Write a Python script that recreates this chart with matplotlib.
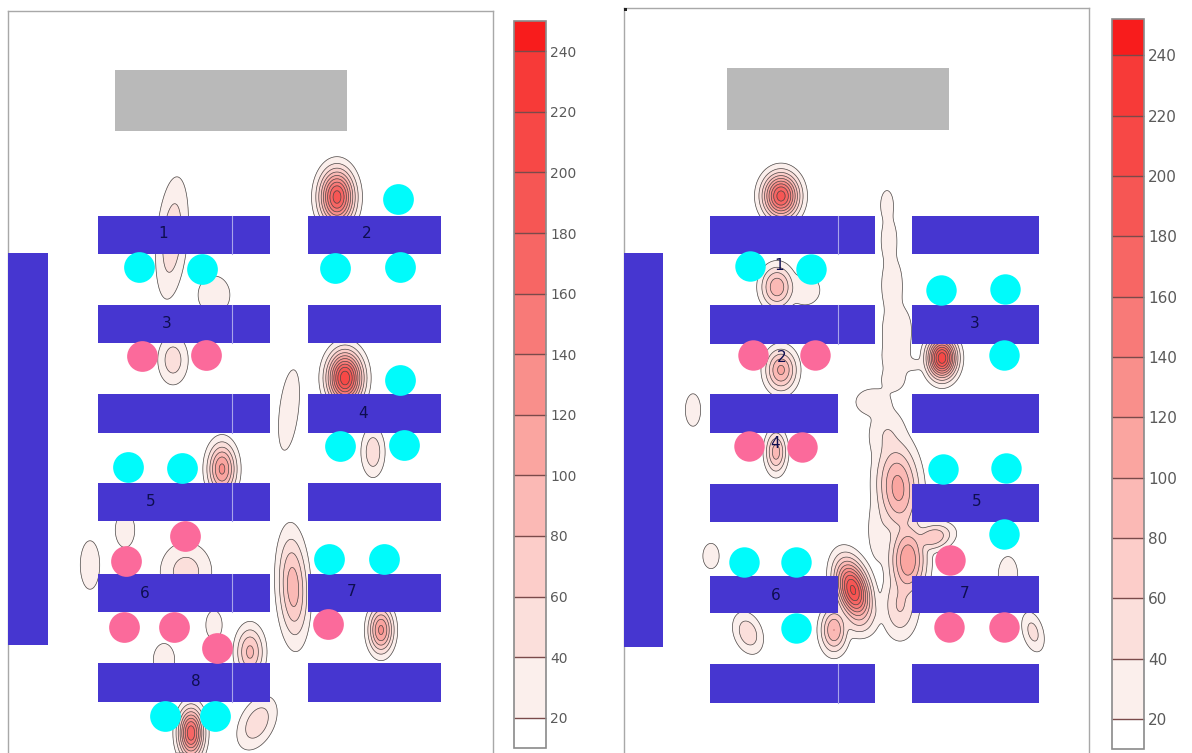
import numpy as np
import matplotlib
matplotlib.use("Agg")
import matplotlib.pyplot as plt
from matplotlib.colors import ListedColormap, BoundaryNorm
from matplotlib.patches import Rectangle

W, H = 1192, 753

levels = [10, 20, 40, 60, 80, 100, 120, 140, 160, 180, 200, 220, 240, 250]
tick_values = [20, 40, 60, 80, 100, 120, 140, 160, 180, 200, 220, 240]
band_colors = ["#ffffff", "#fbefec", "#fbdfdb", "#fccdc9", "#fbb9b5", "#faa5a0", "#f98f8b",
               "#f87a78", "#f76664", "#f65654", "#f74846", "#f73a38", "#f81c1c"]

# hot spots: x, y, spread x, spread y, peak, lean
left_spots = [
    (172, 238, 11, 43, 55, -0.08), (214, 295, 15, 18, 35, 0), (337, 197, 12, 19, 190, 0),
    (173, 360, 11, 18, 52, 0), (345, 378, 12, 18, 215, 0), (289, 410, 9, 38, 35, -0.11),
    (373, 452, 8.5, 18, 55, 0), (222, 469, 10, 18, 125, 0), (125, 530, 10, 18, 32, 0),
    (90, 565, 10, 25, 32, 0), (186, 572, 19, 22, 50, 0), (293, 587, 10.5, 37, 92, 0.04),
    (381, 630, 8.7, 16, 125, 0), (214, 625, 9, 16, 30, 0), (164, 660, 11, 17, 32, 0),
    (250, 652, 10, 18, 85, 0), (257, 723, 13, 19, 55, -0.3), (191, 733, 8.7, 17, 175, 0),
]
right_spots = [
    (781, 196, 12.5, 15.5, 190, 0), (777, 287, 11.5, 15, 95, 0), (805, 290, 14, 14, 35, 0),
    (781, 370, 11, 15, 105, 0), (942, 358, 10, 14, 215, 0), (693, 410, 8.5, 18, 30, 0),
    (776, 452, 7.5, 15, 90, 0), (711, 556, 9, 14, 30, 0), (748, 633, 10.5, 15, 55, 0.2),
    (1008, 575, 10, 19, 32, 0), (1033, 632, 8, 15, 48, 0.2),
    (887, 205, 7, 16, 30, 0), (889, 240, 8, 22, 32, 0), (892, 285, 10, 26, 34, 0),
    (897, 330, 14, 24, 34, 0), (896, 358, 13, 18, 34, 0), (893, 380, 12, 12, 30, 0),
    (915, 365, 12, 7, 25, 0), (873, 402, 17, 13, 33, 0), (887, 435, 15, 22, 40, 0),
    (898, 488, 15, 32, 108, 0.05), (908, 560, 13, 26, 118, 0),
    (933, 537, 14, 10, 78, -0.3), (900, 605, 13, 24, 62, 0), (853, 590, 11.5, 21, 205, 0.2),
    (834, 630, 9.5, 16, 100, 0), (858, 622, 14, 12, 48, 0), (880, 530, 11, 30, 34, 0),
    (874, 612, 8, 10, 30, 0),
]

left_cyan_x = [139, 202, 335, 400, 398, 400, 340, 404, 128, 182, 329, 384, 165, 215]
left_cyan_y = [267, 269, 268, 267, 199, 380, 446, 445, 467, 468, 559, 559, 716, 716]
left_pink_x = [142, 206, 185, 126, 124, 174, 217, 328]
left_pink_y = [356, 355, 536, 561, 627, 627, 648, 624]
right_cyan_x = [750, 811, 941, 1005, 1004, 943, 1006, 1004, 744, 796, 796]
right_cyan_y = [266, 269, 290, 289, 355, 469, 468, 534, 562, 562, 628]
right_pink_x = [753, 815, 749, 802, 950, 949, 1004]
right_pink_y = [355, 355, 446, 447, 560, 627, 627]

left_labels = ["1", "2", "3", "4", "5", "6", "7", "8"]
left_label_x = [163, 367, 167, 363, 151, 145, 352, 196]
left_label_y = [234, 233, 323, 413, 501, 593, 591, 682]
right_labels = ["1", "2", "3", "4", "5", "6", "7"]
right_label_x = [779, 782, 975, 775, 977, 776, 965]
right_label_y = [265, 357, 323, 444, 501, 595, 593]

left_rows = [(216, 254), (305, 343), (394, 433), (483, 521), (574, 612), (663, 702)]
right_rows = [(216, 254), (305, 344), (394, 433), (484, 522), (576, 613), (664, 703)]
right_rows_split = [True, True, False, False, False, True]

BLUE = "#4636d0"
GREY = "#b9b9b9"
CYAN = "#00fbfb"
PINK = "#fb6a9b"
FRAME = "#a8a8a8"


def px_axes(fig, x0, y0, x1, y1):
    return fig.add_axes([x0 / W, 1 - y1 / H, (x1 - x0) / W, (y1 - y0) / H])


def make_field(spots, x, y):
    xx, yy = np.meshgrid(x, y)
    total = np.zeros_like(xx, dtype=float)
    for sx0, sy0, sx, sy, peak, lean in spots:
        dy = yy - sy0
        dx = xx - sx0 - lean * dy
        total += (peak * np.exp(-0.5 * (dx / sx) ** 2 - 0.5 * (dy / sy) ** 2)) ** 3
    return total ** (1 / 3)


def draw_panel(fig, box, spots, cbar_box, top_level, font_size):
    x0, y0, x1, y1 = box
    ax = px_axes(fig, x0, y0, x1, y1)
    ax.set_xticks([])
    ax.set_yticks([])
    ax.spines["bottom"].set_visible(False)
    for side in ["left", "top", "right"]:
        ax.spines[side].set_color(FRAME)
        ax.spines[side].set_linewidth(1.0)

    bounds = levels[:-1] + [top_level]
    cmap = ListedColormap(band_colors)
    norm = BoundaryNorm(bounds, cmap.N)
    x = np.arange(x0, x1 + 1)
    y = np.arange(y0, y1 + 30)
    field = make_field(spots, x, y)
    cf = ax.contourf(x, y, field, levels=bounds, cmap=cmap, norm=norm, zorder=1)
    ax.contour(x, y, field, levels=tick_values, colors="#4a4a4a", linewidths=0.5, zorder=2)
    ax.set_xlim(x0, x1)
    ax.set_ylim(y1, y0)

    cax = px_axes(fig, *cbar_box)
    cb = fig.colorbar(cf, cax=cax, ticks=tick_values, drawedges=True, spacing="proportional")
    cb.dividers.set_color("#7a4a4a")
    cb.dividers.set_linewidth(1)
    cb.outline.set_edgecolor("#8a8a8a")
    cb.outline.set_linewidth(1.2)
    cax.minorticks_off()
    cax.tick_params(which="both", length=0, pad=3, labelsize=font_size, labelcolor="#5a5a5a")
    return ax


def add_rect(ax, x0, y0, x1, y1, color, z=3):
    ax.add_patch(Rectangle((x0, y0), x1 - x0, y1 - y0, facecolor=color, edgecolor="none", zorder=z))


def add_seats(ax, cyan_x, cyan_y, pink_x, pink_y, size):
    ax.scatter(cyan_x, cyan_y, s=size, color=CYAN, linewidths=0, zorder=4)
    ax.scatter(pink_x, pink_y, s=size, color=PINK, linewidths=0, zorder=4)


def add_labels(ax, labels, xs, ys):
    for s, lx, ly in zip(labels, xs, ys):
        ax.text(lx, ly, s, ha="center", va="center", fontsize=11, color="#0e0e50", zorder=5)


fig = plt.figure(figsize=(W / 100, H / 100), dpi=100)

# left room
ax1 = draw_panel(fig, (8, 11, 493, 753), left_spots, (514, 21, 546, 748), 250, 10)
add_rect(ax1, 8, 253, 48, 645, BLUE)
add_rect(ax1, 115, 70, 347, 131, GREY)
for top, bottom in left_rows:
    add_rect(ax1, 98, top, 270, bottom, BLUE)
    add_rect(ax1, 308, top, 441, bottom, BLUE)
    ax1.plot([232, 232], [top, bottom], color="#a9a4ea", lw=0.8, zorder=3.5)
add_seats(ax1, left_cyan_x, left_cyan_y, left_pink_x, left_pink_y, 490)
add_labels(ax1, left_labels, left_label_x, left_label_y)

# right room
ax2 = draw_panel(fig, (624, 8, 1089, 753), right_spots, (1112, 19, 1144, 749), 252, 11)
add_rect(ax2, 624, 253, 663, 647, BLUE)
add_rect(ax2, 727, 68, 949, 130, GREY)
add_rect(ax2, 624, 8, 627, 11, "#202020", z=6)
for (top, bottom), split in zip(right_rows, right_rows_split):
    add_rect(ax2, 710, top, 838, bottom, BLUE)
    add_rect(ax2, 912, top, 1039, bottom, BLUE)
    if split:
        add_rect(ax2, 838, top, 875, bottom, BLUE)
        ax2.plot([838, 838], [top, bottom], color="#a9a4ea", lw=0.8, zorder=3.5)
add_seats(ax2, right_cyan_x, right_cyan_y, right_pink_x, right_pink_y, 480)
add_labels(ax2, right_labels, right_label_x, right_label_y)

fig.savefig("out.png", dpi=100)
